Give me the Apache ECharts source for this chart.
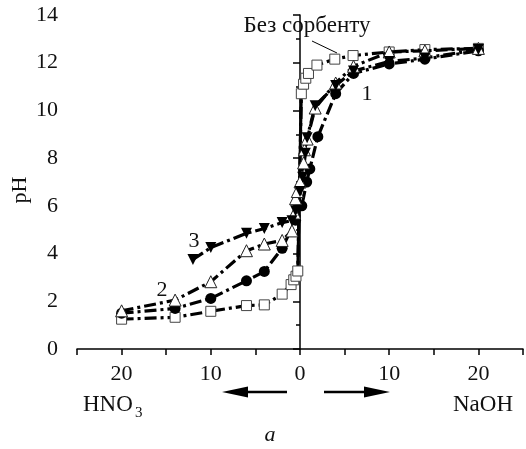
<!DOCTYPE html>
<html><head><meta charset="utf-8">
<script src="https://cdn.jsdelivr.net/npm/echarts@6/dist/echarts.min.js"></script>
<style>html,body{margin:0;padding:0;background:#fff}#c{width:526px;height:449px}</style>
</head><body><div id="c"></div>
<script>
// x: signed amount of titrant (negative = HNO3, positive = NaOH), y: pH
const noSorbent = [[-20,1.25],[-14,1.33],[-10,1.58],[-6,1.82],[-4,1.85],[-2,2.3],[-1,2.7],[-0.7,2.9],[-0.45,3.05],[-0.25,3.27],
  [0.15,10.7],[0.4,11.1],[0.65,11.35],[0.95,11.55],[1.9,11.9],[3.9,12.15],[5.95,12.3],[10,12.45],[14,12.55],[20,12.6]];
const sorbent1 = [[-20,1.5],[-14,1.7],[-10,2.12],[-6,2.86],[-4,3.25],[-2,4.22],[-0.5,5.4],[0.2,6.0],[0.75,7.0],[1.1,7.55],
  [2,8.9],[4,10.7],[6,11.55],[10,11.95],[14,12.15],[20,12.5]];
const sorbent2 = [[-20,1.6],[-14,2.05],[-10,2.82],[-6,4.12],[-4,4.4],[-2,4.55],[-0.9,4.95],[-0.6,5.7],[-0.5,6.3],[-0.3,6.6],
  [0,7.0],[0.4,7.8],[0.5,8.35],[0.8,8.8],[1.7,10.1],[4,11.15],[6,11.85],[10,12.45],[14,12.5],[20,12.6]];
const sorbent3 = [[-12,3.75],[-10,4.25],[-6,4.85],[-4,5.05],[-2,5.3],[-0.9,5.38],[-0.5,5.8],[0,6.6],[0.3,7.2],[0.6,8.2],
  [0.8,8.85],[1.7,10.2],[4,11.05],[6,11.65],[10,12.05],[14,12.2],[20,12.55]];
const xTicks = [-20,-10,0,10,20];
const jumpIdx = [9,10];

const FONT = '"Liberation Serif","Times New Roman",serif';
const chart = echarts.init(document.getElementById('c'), null, {renderer:'canvas'});
const dash = [12,4,3,4];
const lineBase = {color:'#000', width:3.2, type:dash};
const T = (txt, x, y, size, extra) => ({type:'text', x, y, style:Object.assign({text:txt, font:size+'px '+FONT, fill:'#111', textAlign:'center', textVerticalAlign:'middle'}, extra||{})});
chart.setOption({
  animation:false,
  grid:{left:77, top:15, width:452, height:334, containLabel:false},
  xAxis:{type:'value', min:-25, max:25, interval:5,
    axisLine:{onZero:false, lineStyle:{color:'#000', width:1.5}},
    axisTick:{length:6, lineStyle:{color:'#000', width:1.5}},
    splitLine:{show:false},
    axisLabel:{margin:14, color:'#111', fontFamily:FONT, fontSize:22,
      formatter:v => xTicks.indexOf(v) >= 0 ? String(Math.abs(v)) : ''}},
  yAxis:{type:'value', min:0, max:14, interval:2,
    axisLine:{show:true, lineStyle:{color:'#000', width:1.5}},
    axisTick:{show:true, length:7, lineStyle:{color:'#000', width:1.5}},
    minorTick:{show:true, splitNumber:2, length:4, lineStyle:{color:'#000', width:1.5}},
    splitLine:{show:false}, minorSplitLine:{show:false},
    axisLabel:{margin:19, color:'#111', fontFamily:FONT, fontSize:22}},
  series:[
    {type:'line', data:noSorbent, symbol:'rect', symbolSize:10, z:3,
      itemStyle:{color:'#fff', borderColor:'#444', borderWidth:1}, lineStyle:lineBase},
    {type:'line', data:jumpIdx.map(i=>noSorbent[i]), symbol:'none', z:2,
      lineStyle:{color:'#000', width:3, type:'solid'}},
    {type:'line', data:sorbent1, symbol:'circle', symbolSize:11, z:4,
      itemStyle:{color:'#000'}, lineStyle:lineBase},
    {type:'line', data:sorbent2, symbol:'triangle', symbolSize:12, z:5,
      itemStyle:{color:'#fff', borderColor:'#222', borderWidth:1}, lineStyle:lineBase},
    {type:'line', data:sorbent3, symbol:'triangle', symbolRotate:180, symbolSize:11, z:5,
      itemStyle:{color:'#000'}, lineStyle:lineBase}
  ],
  graphic:[
    Object.assign(T('pH', 20, 190, 22), {rotation:Math.PI/2}),
    T('Без сорбенту', 307, 26, 23),
    {type:'line', shape:{x1:312, y1:41, x2:337, y2:53}, style:{stroke:'#000', lineWidth:1}},
    T('1', 367, 94, 22),
    T('2', 162, 290, 22),
    T('3', 194, 241, 22),
    T('HNO', 83, 405, 23, {textAlign:'left'}),
    T('3', 135, 413, 15, {textAlign:'left'}),
    T('NaOH', 483, 405, 23),
    T('a', 270, 435, 22, {font:'italic 22px '+FONT}),
    {type:'line', shape:{x1:287, y1:392, x2:245, y2:392}, style:{stroke:'#000', lineWidth:2.5}},
    {type:'polygon', shape:{points:[[222,392],[248,386.5],[248,397.5]]}, style:{fill:'#000'}},
    {type:'line', shape:{x1:324, y1:392, x2:367, y2:392}, style:{stroke:'#000', lineWidth:2.5}},
    {type:'polygon', shape:{points:[[390,392],[364,386.5],[364,397.5]]}, style:{fill:'#000'}}
  ]
});
</script></body></html>
